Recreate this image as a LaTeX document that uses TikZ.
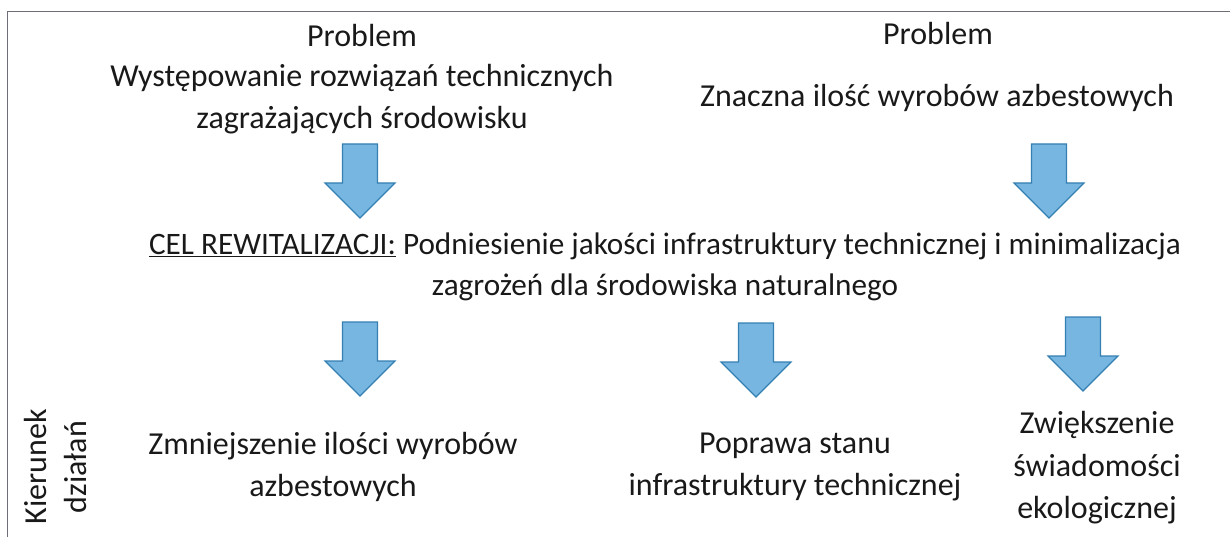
\documentclass[tikz,border=0pt]{standalone}
\usepackage{fontspec}
\setmainfont{Carlito}
\definecolor{arrowfill}{RGB}{118,182,224}
\definecolor{arrowdraw}{RGB}{52,128,178}
\definecolor{framecol}{RGB}{110,110,120}
\definecolor{txt}{RGB}{25,25,25}
\begin{document}
\begin{tikzpicture}[x=1pt,y=-1pt,
  lbl/.style={align=center,inner sep=0pt,text=txt,font=\fontsize{32}{42.5}\selectfont},
  cellbl/.style={lbl,font=\fontsize{31.2}{41}\selectfont},
  side/.style={lbl,rotate=90},
  arrowstyle/.style={fill=arrowfill,draw=arrowdraw,line width=1.2pt,line join=miter},
  downarrow/.pic={\draw[arrowstyle] (-17.5,0) -- (17.5,0) -- (17.5,39) -- (35,39) -- (0,74) -- (-35,39) -- (-17.5,39) -- cycle;}
]
\useasboundingbox (0,0) rectangle (1230,537);
\draw[framecol,line width=0.8pt] (7,11) rectangle (1240,550);

\node[lbl] (p1) at (362,36) {Problem};
\node[lbl] (p1t) at (362,99) {Występowanie rozwiązań technicznych\\zagrażających środowisku};
\node[lbl] (p2) at (938,34) {Problem};
\node[lbl] (p2t) at (937,98) {Znaczna ilość wyrobów azbestowych};

\pic at (360,144) {downarrow};
\pic at (1049,144) {downarrow};

\node[cellbl] (cel) at (665,267) {\underline{CEL REWITALIZACJI:} Podniesienie jakości infrastruktury technicznej i minimalizacja\\zagrożeń dla środowiska naturalnego};

\pic at (360,322) {downarrow};
\pic at (756,323) {downarrow};
\pic at (1083,317) {downarrow};

\node[side] (kier) at (36,467) {Kierunek};
\node[side] (dz) at (76,467) {działań};

\node[lbl] (d1) at (333,467) {Zmniejszenie ilości wyrobów\\azbestowych};
\node[lbl] (d2) at (795,467) {Poprawa stanu\\infrastruktury technicznej};
\node[lbl] (d3) at (1097,468) {Zwiększenie\\świadomości\\ekologicznej};
\end{tikzpicture}
\end{document}
